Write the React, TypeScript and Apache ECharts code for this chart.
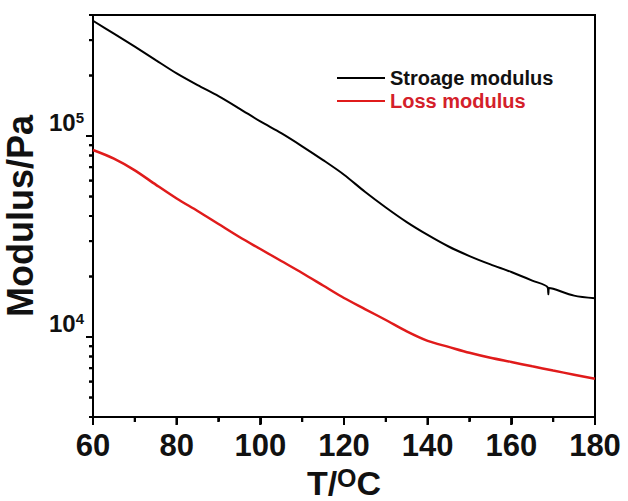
import React, { useEffect, useRef } from "react";
import * as echarts from "echarts";

// Temperature samples (°C)
const temps = [60, 65, 70, 75, 80, 85, 90, 95, 100, 105, 110, 115, 120, 125, 130, 135, 140, 145, 150, 155, 160, 165, 170, 175, 180];
// Storage modulus (Pa)
const storage = [374600, 323200, 278500, 238600, 204800, 179100, 158000, 137000, 118200, 103300, 88900, 75900, 64200, 52800, 44100, 37300, 32200, 28200, 25280, 22980, 21060, 19090, 17390, 16070, 15580];
// Small glitch in the storage curve near 169 °C
const storageGlitch = [[168.7, 17650], [168.85, 16300], [169.0, 17550]];
// Loss modulus (Pa)
const loss = [85200, 77200, 67500, 57300, 48870, 42360, 36490, 31440, 27400, 23880, 20820, 18040, 15630, 13780, 12150, 10660, 9560, 8930, 8345, 7880, 7510, 7150, 6810, 6494, 6194];

const seriesNames = ["Stroage modulus", "Loss modulus"];
const xMajorTicks = [60, 80, 100, 120, 140, 160, 180];
const xMinorTicks = [70, 90, 110, 130, 150, 170];
const yMajorTicks = [10000, 100000];
const yMinorTicks = [4000, 5000, 6000, 7000, 8000, 9000, 20000, 30000, 40000, 50000, 60000, 70000, 80000, 90000, 200000, 300000, 400000];

const X_MIN = 60;
const X_MAX = 180;
const X_STEP = 20;
const Y_MIN = 4000;
const Y_MAX = 400000;

export default function App() {
  const ref = useRef<HTMLDivElement>(null);
  useEffect(() => {
    if (!ref.current) return;
    const chart = echarts.init(ref.current, null, { renderer: "svg" });
    const storageData = temps
      .map((t, i) => [t, storage[i]])
      .concat(storageGlitch)
      .sort((a, b) => a[0] - b[0]);
    const lossData = temps.map((t, i) => [t, loss[i]]);
    const font = "'Liberation Sans', Arial, sans-serif";
    const black = "#111";

    // tick data: [x, y, width, height, dx, dy] in pixels relative to the axis point
    const tickData: number[][] = [];
    xMajorTicks.forEach((t) => tickData.push([t, Y_MIN, 2, 8, -1, 0]));
    xMinorTicks.forEach((t) => tickData.push([t, Y_MIN, 2, 5, -1, 0]));
    yMajorTicks.forEach((v) => tickData.push([X_MIN, v, 7, 2, -7, -1]));
    yMinorTicks.forEach((v) => tickData.push([X_MIN, v, 4, 2, -4, -1]));

    chart.setOption({
      animation: false,
      backgroundColor: "#fff",
      textStyle: { fontFamily: font },
      grid: {
        left: 93,
        right: 33,
        top: 15,
        bottom: 84,
        containLabel: false,
        outerBoundsMode: "none",
        show: true,
        borderColor: "#000",
        borderWidth: 2,
        backgroundColor: "transparent",
      },
      legend: {
        orient: "vertical",
        left: 332,
        top: 63,
        itemWidth: 48,
        itemHeight: 2,
        itemGap: 3,
        icon: "rect",
        data: [
          { name: seriesNames[0], textStyle: { color: black } },
          { name: seriesNames[1], textStyle: { color: "#d4202a" } },
        ],
        textStyle: { fontSize: 20, fontWeight: "bold", fontFamily: font },
      },
      xAxis: {
        type: "value",
        min: X_MIN,
        max: X_MAX,
        interval: X_STEP,
        name: "{a|T/}{b|O}{a|C}",
        nameLocation: "middle",
        nameGap: 44,
        nameTextStyle: {
          rich: {
            a: { fontSize: 34, fontWeight: "bold", color: black, fontFamily: font },
            b: { fontSize: 25, fontWeight: "bold", color: black, verticalAlign: "top", fontFamily: font },
          },
        },
        axisLine: { show: true, onZero: false, lineStyle: { color: "#000", width: 2 } },
        axisTick: { show: true, inside: false, length: 7, lineStyle: { color: "#000", width: 2 } },
        minorTick: { show: true, splitNumber: 2, length: 4, lineStyle: { color: "#000", width: 2 } },
        splitLine: { show: false },
        minorSplitLine: { show: false },
        axisLabel: { fontSize: 31, fontWeight: "bold", color: black, margin: 13, fontFamily: font },
      },
      yAxis: {
        type: "log",
        logBase: 10,
        min: Y_MIN,
        max: Y_MAX,
        name: "Modulus/Pa",
        nameLocation: "middle",
        nameGap: 48,
        nameTextStyle: { fontSize: 36, fontWeight: "bold", color: black, fontFamily: font },
        axisLine: { show: true, onZero: false, lineStyle: { color: "#000", width: 2 } },
        axisTick: { show: true, inside: false, length: 6, customValues: yMajorTicks, lineStyle: { color: "#000", width: 2 } },
        splitLine: { show: false },
        axisLabel: {
          customValues: yMajorTicks,
          margin: 9,
          verticalAlign: "bottom",
          padding: [0, 0, 2, 0],
          formatter: (v: number) => "{b|10}{s|" + Math.round(Math.log10(v)) + "}",
          rich: {
            b: { fontSize: 24, fontWeight: "bold", color: black, fontFamily: font },
            s: { fontSize: 15, fontWeight: "bold", color: black, verticalAlign: "top", fontFamily: font },
          },
        },
      },
      series: [
        {
          name: seriesNames[0],
          type: "line",
          data: storageData,
          showSymbol: false,
          symbol: "none",
          smooth: 0.3,
          color: "#000",
          lineStyle: { color: "#000", width: 2 },
        },
        {
          name: seriesNames[1],
          type: "line",
          data: lossData,
          showSymbol: false,
          symbol: "none",
          smooth: 0.3,
          color: "#e01b1b",
          lineStyle: { color: "#e01b1b", width: 2.5 },
        },
        {
          name: "ticks",
          type: "custom",
          coordinateSystem: "cartesian2d",
          clip: false,
          z: 20,
          encode: { x: 0, y: 1 },
          data: tickData,
          renderItem: (params: any, api: any) => {
            const p = api.coord([api.value(0), api.value(1)]);
            return {
              type: "rect",
              shape: {
                x: p[0] + api.value(4),
                y: p[1] + api.value(5),
                width: api.value(2),
                height: api.value(3),
              },
              style: { fill: "#000" },
            };
          },
        },
      ],
    });

    // Extra safety: the same tick marks as graphic rects, positioned through the axes
    const rects: any[] = [];
    tickData.forEach((d) => {
      let p: any = null;
      try {
        p = chart.convertToPixel({ gridIndex: 0 }, [d[0], d[1]]);
      } catch (e) {
        p = null;
      }
      if (p && isFinite(p[0]) && isFinite(p[1])) {
        rects.push({
          type: "rect",
          z: 200,
          shape: { x: p[0] + d[4], y: p[1] + d[5], width: d[2], height: d[3] },
          style: { fill: "#000" },
        });
      }
    });
    chart.setOption({ graphic: { elements: rects } });

    return () => chart.dispose();
  }, []);
  return (
    <div
      ref={ref}
      style={{ position: "fixed", left: 0, top: 0, width: 628, height: 501, background: "#fff" }}
    />
  );
}
